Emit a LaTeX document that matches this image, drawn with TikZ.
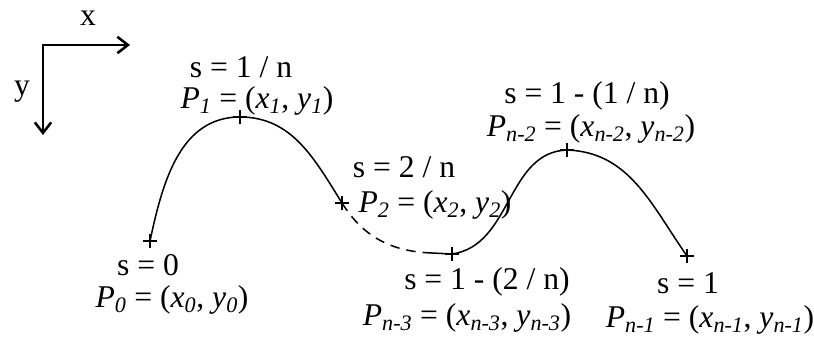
\documentclass[tikz,border=0pt]{standalone}
\usepackage{fontspec}
\setmainfont{Liberation Serif}
\usetikzlibrary{arrows.meta}

\begin{document}
\begin{tikzpicture}[x=0.03cm, y=0.03cm,
      font=\fontsize{27}{30}\selectfont,
      curve/.style={line width=1.3pt},
      axis/.style={line width=2.2pt, {Straight Barb[length=9pt, width=14pt]}-{Straight Barb[length=9pt, width=14pt]}},
      lbl/.style={inner sep=0pt}]
    \useasboundingbox (0,0) rectangle (814,336);
    % axes
    \coordinate (o) at (43,291);
    \coordinate (xend) at (130,291);
    \coordinate (yend) at (43,201);
    \draw[axis] (xend) -- (o) -- (yend);
    \node[lbl] (xl) at (88,318) {x};
    \node[lbl] (yl) at (22,244) {y};
    % sample points
    \coordinate (p0) at (150,95);
    \coordinate (p1) at (240,219);
    \coordinate (p2) at (342,133);
    \coordinate (d) at (432,83);
    \coordinate (p3) at (452,82);
    \coordinate (p4) at (567,186);
    \coordinate (p5) at (687,80);
    \draw[curve] (p0) to[out=78, in=180] (p1) to[out=0, in=122] (p2);
    \draw[curve, dash pattern=on 8pt off 6pt] (p2) to[out=-58, in=178] (d);
    \draw[curve] (d) -- (p3) to[out=8, in=182] (p4) to[out=-2, in=125] (p5);
    \foreach \p in {p0,p1,p2,p3,p4,p5}
      \draw[curve] ([xshift=-6pt]\p) -- ([xshift=6pt]\p) ([yshift=-6pt]\p) -- ([yshift=6pt]\p);
    % labels
    \node[lbl] (s0) at (148,71) {s = 0};
    \node[lbl] (l0) at (172,36) {\textit{P}\textsubscript{\textit{0}} = (\textit{x}\textsubscript{\textit{0}}, \textit{y}\textsubscript{\textit{0}})};
    \node[lbl] (s1) at (241,269) {s = 1 / n};
    \node[lbl] (l1) at (257,235) {\textit{P}\textsubscript{\textit{1}} = (\textit{x}\textsubscript{\textit{1}}, \textit{y}\textsubscript{\textit{1}})};
    \node[lbl] (s2) at (404,169) {s = 2 / n};
    \node[lbl] (l2) at (435,131) {\textit{P}\textsubscript{\textit{2}} = (\textit{x}\textsubscript{\textit{2}}, \textit{y}\textsubscript{\textit{2}})};
    \node[lbl] (s3) at (487,54) {s = 1 - (2 / n)};
    \node[lbl] (l3) at (467,18) {\textit{P}\textsubscript{\textit{n-3}} = (\textit{x}\textsubscript{\textit{n-3}}, \textit{y}\textsubscript{\textit{n-3}})};
    \node[lbl] (s4) at (587,240) {s = 1 - (1 / n)};
    \node[lbl] (l4) at (591,207) {\textit{P}\textsubscript{\textit{n-2}} = (\textit{x}\textsubscript{\textit{n-2}}, \textit{y}\textsubscript{\textit{n-2}})};
    \node[lbl] (s5) at (688,53) {s = 1};
    \node[lbl] (l5) at (710,16) {\textit{P}\textsubscript{\textit{n-1}} = (\textit{x}\textsubscript{\textit{n-1}}, \textit{y}\textsubscript{\textit{n-1}})};
  \end{tikzpicture}
\end{document}
